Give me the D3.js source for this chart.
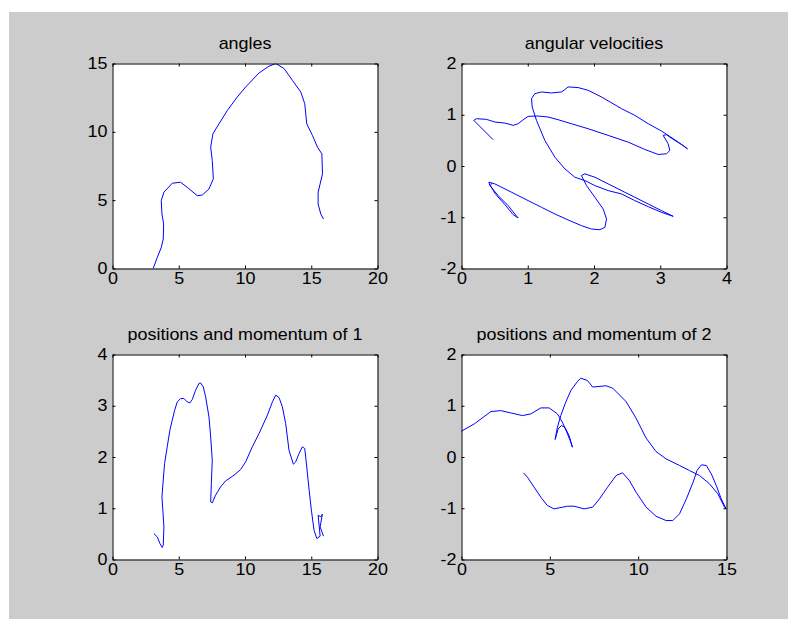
<!DOCTYPE html>
<html lang="en">
<head>
<meta charset="UTF-8">
<title>angles / angular velocities / positions and momentum</title>
<style>
  body { margin: 0; background: #fff; }
  svg text { font-family: "Liberation Sans", Arial, sans-serif; font-size: 16px; fill: #000; }
</style>
</head>
<body>
<script src="https://d3js.org/d3.v7.min.js"></script>
<script>
// ---- data ----
const titles = ["angles", "angular velocities", "positions and momentum of 1", "positions and momentum of 2"];

const ticks1X = [0, 5, 10, 15, 20], ticks1Y = [0, 5, 10, 15];
const ticks2X = [0, 1, 2, 3, 4],    ticks2Y = [-2, -1, 0, 1, 2];
const ticks3X = [0, 5, 10, 15, 20], ticks3Y = [0, 1, 2, 3, 4];
const ticks4X = [0, 5, 10, 15],     ticks4Y = [-2, -1, 0, 1, 2];

// angles
const anglesX = [3.07, 3.38, 3.68, 3.83, 3.86, 3.73, 3.68, 3.88, 4.51, 5.14, 5.64, 6.40, 6.78, 7.28, 7.61, 7.53,
  7.41, 7.58, 8.04, 8.67, 9.42, 10.05, 11.06, 11.81, 12.32, 12.95, 13.58, 14.21, 14.51, 14.66, 15.09, 15.47,
  15.80, 15.85, 15.67, 15.52, 15.52, 15.72, 15.92];
const anglesY = [0.0, 0.81, 1.54, 2.15, 3.26, 3.99, 4.97, 5.58, 6.24, 6.31, 5.94, 5.33, 5.38, 5.82, 6.56, 7.90,
  8.88, 9.86, 10.59, 11.57, 12.55, 13.28, 14.31, 14.80, 15.0, 14.63, 13.77, 12.91, 12.06, 10.59, 9.74, 8.88,
  8.39, 6.93, 6.19, 5.58, 4.72, 3.99, 3.62];

// angular velocities
const velX = [0.478, 0.186, 0.226, 0.377, 0.503, 0.654, 0.780, 0.855, 0.931, 1.006, 1.157, 1.308, 1.459, 1.660,
  1.912, 2.214, 2.516, 2.767, 2.969, 3.094, 3.145, 3.119, 3.044, 3.094, 3.220, 3.321, 3.411, 3.220, 3.019,
  2.818, 2.616, 2.415, 2.113, 1.912, 1.761, 1.610, 1.560, 1.509, 1.358, 1.208, 1.107, 1.057, 1.067, 1.132,
  1.258, 1.409, 1.560, 1.711, 1.862, 2.013, 2.214, 2.415, 2.616, 2.818, 3.019, 3.195, 3.019, 2.818, 2.616,
  2.465, 2.214, 2.013, 1.862, 1.811, 1.887, 2.013, 2.138, 2.189, 2.164, 2.088, 1.962, 1.811, 1.610, 1.409,
  1.208, 1.006, 0.755, 0.503, 0.413, 0.428, 0.553, 0.704, 0.805, 0.855, 0.780, 0.654, 0.503, 0.438, 0.453];
const velY = [0.512, 0.890, 0.923, 0.910, 0.858, 0.838, 0.793, 0.825, 0.903, 0.969, 0.975, 0.956, 0.903, 0.825,
  0.727, 0.597, 0.466, 0.323, 0.225, 0.238, 0.303, 0.434, 0.597, 0.610, 0.499, 0.421, 0.336, 0.512, 0.682,
  0.825, 0.988, 1.119, 1.347, 1.477, 1.530, 1.543, 1.491, 1.445, 1.425, 1.445, 1.412, 1.314, 1.151, 0.890,
  0.499, 0.173, -0.055, -0.219, -0.284, -0.382, -0.480, -0.545, -0.675, -0.793, -0.904, -0.982, -0.871, -0.741, -0.610,
  -0.512, -0.349, -0.219, -0.153, -0.186, -0.382, -0.610, -0.838, -1.034, -1.197, -1.243, -1.230, -1.164, -1.053, -0.936,
  -0.806, -0.675, -0.512, -0.349, -0.316, -0.382, -0.577, -0.773, -0.936, -1.014, -0.949, -0.753, -0.532, -0.382, -0.336];

// positions and momentum of 1
const pm1X = [3.12, 3.38, 3.58, 3.75, 3.83, 3.88, 3.80, 3.73, 3.83, 3.93, 4.13, 4.33, 4.51, 4.69, 4.89, 5.14, 5.39,
  5.64, 5.84, 6.02, 6.27, 6.52, 6.65, 6.85, 7.03, 7.28, 7.41, 7.53, 7.46, 7.41, 7.53, 7.78, 8.16, 8.54, 9.17,
  9.67, 10.05, 10.55, 11.06, 11.69, 12.07, 12.32, 12.57, 12.82, 13.07, 13.32, 13.65, 13.83, 14.08, 14.33, 14.51,
  14.66, 14.84, 15.01, 15.21, 15.42, 15.67, 15.52, 15.72, 15.84, 15.67, 15.92];
const pm1Y = [0.506, 0.441, 0.312, 0.234, 0.279, 0.637, 0.962, 1.222, 1.547, 1.873, 2.198, 2.523, 2.718, 2.913,
  3.076, 3.141, 3.141, 3.076, 3.056, 3.121, 3.303, 3.433, 3.446, 3.368, 3.173, 2.783, 2.393, 1.938, 1.483, 1.125,
  1.105, 1.255, 1.418, 1.534, 1.645, 1.755, 1.905, 2.198, 2.458, 2.816, 3.076, 3.206, 3.160, 2.978, 2.653, 2.133,
  1.860, 1.905, 2.068, 2.198, 2.165, 1.807, 1.352, 0.962, 0.571, 0.409, 0.455, 0.864, 0.832, 0.884, 0.637, 0.455];

// positions and momentum of 2
const pm2X = [-0.04, 0.72, 1.66, 2.22, 2.79, 3.45, 3.92, 4.49, 4.96, 5.43, 5.71, 5.96, 6.15, 6.28, 6.09, 5.85,
  5.66, 5.47, 5.30, 5.43, 5.62, 5.90, 6.19, 6.56, 6.75, 7.13, 7.43, 8.18, 8.56, 9.31, 9.88, 10.45, 11.01, 11.58,
  12.34, 12.90, 13.47, 14.04, 14.51, 14.89, 14.98, 14.70, 14.42, 14.14, 13.86, 13.58, 13.33, 13.11, 12.73, 12.34,
  11.96, 11.58, 11.01, 10.45, 9.88, 9.50, 9.12, 8.75, 8.27, 7.81, 7.43, 6.94, 6.37, 6.00, 5.24, 4.86, 4.49,
  4.11, 3.73, 3.51];
const pm2Y = [0.497, 0.645, 0.886, 0.905, 0.860, 0.808, 0.841, 0.958, 0.958, 0.841, 0.679, 0.484, 0.321, 0.191,
  0.419, 0.581, 0.614, 0.549, 0.341, 0.581, 0.809, 1.069, 1.297, 1.473, 1.538, 1.492, 1.364, 1.390, 1.343, 1.083,
  0.758, 0.368, 0.108, -0.037, -0.166, -0.264, -0.361, -0.524, -0.719, -0.979, -1.012, -0.816, -0.556, -0.329,
  -0.166, -0.153, -0.264, -0.491, -0.816, -1.109, -1.240, -1.240, -1.155, -0.979, -0.686, -0.459, -0.309, -0.361,
  -0.589, -0.816, -0.979, -1.012, -0.960, -0.960, -1.012, -0.947, -0.784, -0.589, -0.394, -0.309];

// ---- drawing ----
const width = 788, height = 619;
const stretch = "scale(1.12,1)";  // reference text is a bit wider than Arial
const fmt = d => String(d);        // plain hyphen minus like the reference

const svg = d3.select("body").append("svg")
  .attr("width", width)
  .attr("height", height);

svg.append("rect")
  .attr("x", 9).attr("y", 12)
  .attr("width", width - 9).attr("height", height - 12)
  .attr("fill", "#cccccc");

const panels = [
  {left: 112, top: 63,  xd: [0, 20], yd: [0, 15], xt: ticks1X, yt: ticks1Y, xs: anglesX, ys: anglesY, title: titles[0]},
  {left: 461, top: 63,  xd: [0, 4],  yd: [-2, 2], xt: ticks2X, yt: ticks2Y, xs: velX,    ys: velY,    title: titles[1]},
  {left: 112, top: 354, xd: [0, 20], yd: [0, 4],  xt: ticks3X, yt: ticks3Y, xs: pm1X,    ys: pm1Y,    title: titles[2]},
  {left: 461, top: 354, xd: [0, 15], yd: [-2, 2], xt: ticks4X, yt: ticks4Y, xs: pm2X,    ys: pm2Y,    title: titles[3]}
];
const pw = 265, ph = 205;

panels.forEach((p, k) => {
  const g = svg.append("g").attr("transform", `translate(${p.left + 0.5},${p.top + 0.5})`);
  const x = d3.scaleLinear().domain(p.xd).range([0, pw]);
  const y = d3.scaleLinear().domain(p.yd).range([ph, 0]);

  g.append("rect").attr("width", pw).attr("height", ph).attr("fill", "#fff");

  g.append("clipPath").attr("id", "clip" + k)
    .append("rect").attr("width", pw).attr("height", ph);

  const line = d3.line().x(d => x(d[0])).y(d => y(d[1]));
  g.append("path")
    .datum(d3.zip(p.xs, p.ys))
    .attr("clip-path", `url(#clip${k})`)
    .attr("fill", "none")
    .attr("stroke", "#0000ff")
    .attr("stroke-width", 1)
    .attr("stroke-linejoin", "round")
    .attr("d", line);

  // box + inward ticks on all four sides
  const bottom = g.append("g").attr("transform", `translate(0,${ph})`)
    .call(d3.axisBottom(x).tickValues(p.xt).tickFormat(fmt).tickSizeInner(-3).tickSizeOuter(0).tickPadding(4));
  const left = g.append("g")
    .call(d3.axisLeft(y).tickValues(p.yt).tickFormat(fmt).tickSizeInner(-3).tickSizeOuter(0).tickPadding(4.5));
  g.append("g")
    .call(d3.axisTop(x).tickValues(p.xt).tickSizeInner(-3).tickSizeOuter(0).tickFormat(""));
  g.append("g").attr("transform", `translate(${pw},0)`)
    .call(d3.axisRight(y).tickValues(p.yt).tickSizeInner(-3).tickSizeOuter(0).tickFormat(""));

  g.selectAll(".domain, .tick line").attr("stroke", "#000");
  g.selectAll(".tick text").attr("fill", "#000").attr("font-size", null).attr("font-family", null);
  bottom.selectAll(".tick text").attr("transform", stretch);
  left.selectAll(".tick text").attr("transform", stretch);

  g.append("text")
    .attr("transform", `translate(${pw / 2},-15) ${stretch}`)
    .attr("text-anchor", "middle")
    .text(p.title);
});
</script>
</body>
</html>
